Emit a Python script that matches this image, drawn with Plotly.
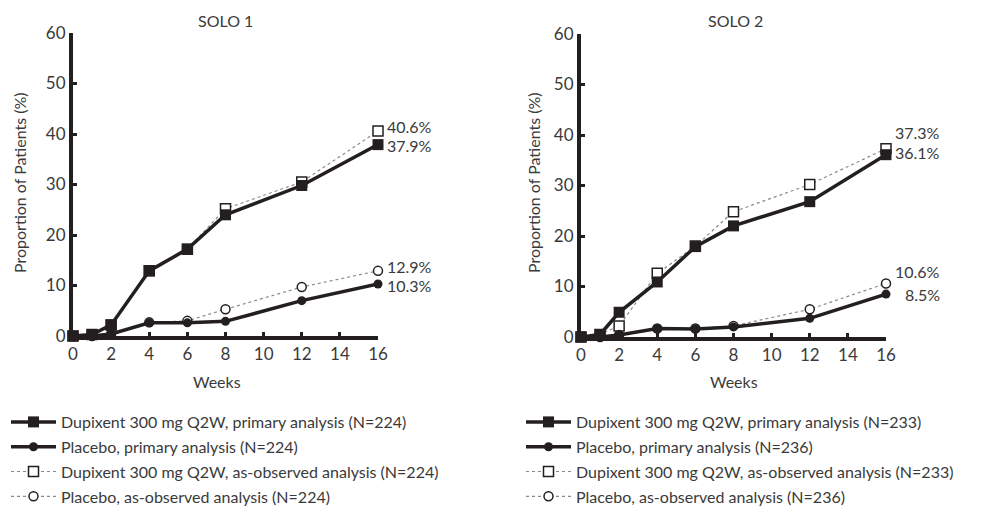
import plotly.graph_objects as go

# Weeks of assessment
weeks = [0, 1, 2, 4, 6, 8, 12, 16]

# SOLO 1 — proportion of patients (%)
solo1_dupi_primary = [0, 0.3, 2.2, 12.9, 17.2, 24.0, 29.8, 37.9]
solo1_pbo_primary = [0, 0, 0.4, 2.6, 2.6, 2.9, 7.0, 10.3]
solo1_dupi_observed = [0, 0.3, 2.2, 12.9, 17.2, 25.2, 30.5, 40.6]
solo1_pbo_observed = [0, 0, 0.4, 2.7, 3.0, 5.3, 9.7, 12.9]

# SOLO 2 — proportion of patients (%)
solo2_dupi_primary = [0, 0.5, 4.9, 10.9, 17.9, 22.0, 26.8, 36.1]
solo2_pbo_primary = [0, 0, 0.4, 1.7, 1.6, 2.0, 3.7, 8.5]
solo2_dupi_observed = [0, 0.5, 2.2, 12.6, 18.0, 24.8, 30.2, 37.3]
solo2_pbo_observed = [0, 0, 0.4, 1.7, 1.7, 2.2, 5.5, 10.6]

solo1_names = [
    "Dupixent 300 mg Q2W, primary analysis (N=224)",
    "Placebo, primary analysis (N=224)",
    "Dupixent 300 mg Q2W, as-observed analysis (N=224)",
    "Placebo, as-observed analysis (N=224)",
]
solo2_names = [
    "Dupixent 300 mg Q2W, primary analysis (N=233)",
    "Placebo, primary analysis (N=236)",
    "Dupixent 300 mg Q2W, as-observed analysis (N=233)",
    "Placebo, as-observed analysis (N=236)",
]

x_ticks = [0, 2, 4, 6, 8, 10, 12, 14, 16]
y_ticks = [0, 10, 20, 30, 40, 50, 60]

W, H = 987, 512
INK = "#231f20"
TEXT = "#3a3a3a"
FONT = "Lato"


def px_x(p):
    return p / W


def px_y(p):
    return 1 - p / H


fig = go.Figure()


def add_study(xa, ya, leg, names, dupi_p, pbo_p, dupi_o, pbo_o):
    # as-observed (dotted) drawn first so the primary analysis sits on top
    fig.add_trace(go.Scatter(
        x=weeks, y=dupi_o, name=names[2], xaxis=xa, yaxis=ya, legend=leg,
        legendgroup=leg + "c", legendrank=3, cliponaxis=False,
        mode="lines+markers",
        line=dict(color="#8a8a8a", width=1.2, dash="dot"),
        marker=dict(symbol="square", size=10, color="white",
                    line=dict(color=INK, width=1.5)),
    ))
    fig.add_trace(go.Scatter(
        x=weeks, y=pbo_o, name=names[3], xaxis=xa, yaxis=ya, legend=leg,
        legendgroup=leg + "d", legendrank=4, cliponaxis=False,
        mode="lines+markers",
        line=dict(color="#8a8a8a", width=1.2, dash="dot"),
        marker=dict(symbol="circle", size=9, color="white",
                    line=dict(color=INK, width=1.5)),
    ))
    fig.add_trace(go.Scatter(
        x=weeks, y=pbo_p, name=names[1], xaxis=xa, yaxis=ya, legend=leg,
        legendgroup=leg + "b", legendrank=2, cliponaxis=False,
        mode="lines+markers",
        line=dict(color=INK, width=3.5),
        marker=dict(symbol="circle", size=9, color=INK),
    ))
    fig.add_trace(go.Scatter(
        x=weeks, y=dupi_p, name=names[0], xaxis=xa, yaxis=ya, legend=leg,
        legendgroup=leg + "a", legendrank=1, cliponaxis=False,
        mode="lines+markers",
        line=dict(color=INK, width=3.5),
        marker=dict(symbol="square", size=11, color=INK),
    ))


add_study("x", "y", "legend", solo1_names, solo1_dupi_primary,
          solo1_pbo_primary, solo1_dupi_observed, solo1_pbo_observed)
add_study("x2", "y2", "legend2", solo2_names, solo2_dupi_primary,
          solo2_pbo_primary, solo2_dupi_observed, solo2_pbo_observed)

axis_common = dict(
    showgrid=False, zeroline=False, showline=True, linecolor=INK,
    linewidth=4, ticks="inside", ticklen=4, tickwidth=3, tickcolor=INK,
    tickfont=dict(family=FONT, size=17, color=TEXT),
)

legend_common = dict(
    xanchor="left", yanchor="top",
    font=dict(family=FONT, size=16, color=TEXT),
    tracegroupgap=1, itemwidth=45, bgcolor="rgba(0,0,0,0)",
)

fig.update_layout(
    width=W, height=H,
    margin=dict(l=0, r=0, t=0, b=0, autoexpand=False),
    paper_bgcolor="white", plot_bgcolor="white",
    font=dict(family=FONT, color=TEXT),
    xaxis=dict(domain=[px_x(73), px_x(378)], range=[0, 16],
               tickvals=x_ticks, anchor="y", **axis_common),
    yaxis=dict(domain=[px_y(336), px_y(33)], range=[0, 60],
               tickvals=y_ticks, anchor="x", **axis_common),
    xaxis2=dict(domain=[px_x(581), px_x(886)], range=[0, 16],
                tickvals=x_ticks, anchor="y2", **axis_common),
    yaxis2=dict(domain=[px_y(337), px_y(34)], range=[0, 60],
                tickvals=y_ticks, anchor="x2", **axis_common),
    legend=dict(x=px_x(6), y=px_y(405), **legend_common),
    legend2=dict(x=px_x(521), y=px_y(405), **legend_common),
)

annotations = []
label_font = dict(family=FONT, size=16, color=TEXT)
# panel titles
for text, cx in [("SOLO 1", 225), ("SOLO 2", 735)]:
    annotations.append(dict(text=text, xref="paper", yref="paper",
                            x=px_x(cx), y=px_y(20), xanchor="center",
                            yanchor="middle", showarrow=False,
                            font=label_font))
# axis titles
for cx in [19, 533]:
    annotations.append(dict(text="Proportion of Patients (%)", xref="paper",
                            yref="paper", x=px_x(cx), y=px_y(183),
                            xanchor="center", yanchor="middle",
                            textangle=-90, showarrow=False, font=label_font))
for cx in [217, 734]:
    annotations.append(dict(text="Weeks", xref="paper", yref="paper",
                            x=px_x(cx), y=px_y(381), xanchor="center",
                            yanchor="middle", showarrow=False,
                            font=label_font))

# end-of-study value labels
end_labels = [
    ("x", "y", solo1_dupi_observed[-1], 4),
    ("x", "y", solo1_dupi_primary[-1], -1),
    ("x", "y", solo1_pbo_observed[-1], 4),
    ("x", "y", solo1_pbo_primary[-1], -2),
    ("x2", "y2", solo2_dupi_observed[-1], 16),
    ("x2", "y2", solo2_dupi_primary[-1], 2),
    ("x2", "y2", solo2_pbo_observed[-1], 12),
    ("x2", "y2", solo2_pbo_primary[-1], 0),
]
for xr, yr, v, dy in end_labels:
    annotations.append(dict(text=f"{v}%", xref=xr, yref=yr, x=16, y=v,
                            xanchor="right", yanchor="middle", xshift=55,
                            yshift=dy, showarrow=False, borderpad=0,
                            font=label_font))

fig.update_layout(annotations=annotations)

fig.write_html("out.html")
